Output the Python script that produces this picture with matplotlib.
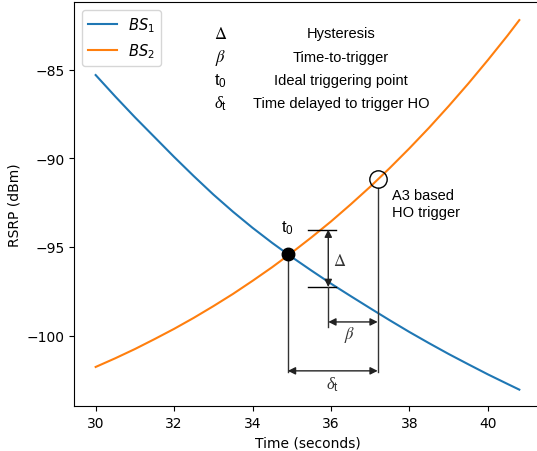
import matplotlib
matplotlib.use("Agg")
import matplotlib.pyplot as plt

# ---- data ----
time_s = [30, 30.5, 31, 31.5, 32, 32.5, 33, 33.5, 34, 34.5, 35, 35.5,
          36, 36.5, 37, 37.5, 38, 38.5, 39, 39.5, 40, 40.5, 40.8]
bs1_rsrp = [-85.30, -86.51, -87.68, -88.80, -89.92, -91.00, -92.04, -93.01,
            -93.92, -94.77, -95.57, -96.33, -97.07, -97.77, -98.46, -99.14,
            -99.80, -100.43, -101.04, -101.62, -102.19, -102.73, -103.05]
bs2_rsrp = [-101.77, -101.28, -100.76, -100.20, -99.62, -99.00, -98.34, -97.65,
            -96.91, -96.14, -95.32, -94.46, -93.56, -92.60, -91.60, -90.54,
            -89.43, -88.27, -87.05, -85.78, -84.45, -83.07, -82.20]

t0_point = (34.9, -95.42)           # ideal triggering point
ho_point = (37.19, -91.18)          # A3 based HO trigger
hyst_top, hyst_bot = -94.02, -97.26  # hysteresis bounds
ttt_y = -99.23                        # time-to-trigger arrow level
delay_y = -101.99                     # delay arrow level
delta_x = 35.93

legend_symbols = [r'$\Delta$', r'$\beta$', r'$\mathrm{t}_\mathrm{0}$', r'$\delta_\mathrm{t}$']
legend_sym_font = ['stix', 'stix', 'custom', 'custom']
legend_texts = ['Hysteresis', 'Time-to-trigger', 'Ideal triggering point',
                'Time delayed to trigger HO']
legend_rows_y = [-82.93, -84.28, -85.58, -86.88]

plt.rcParams['mathtext.rm'] = 'Liberation Sans'
plt.rcParams['mathtext.it'] = 'Liberation Serif:italic'
plt.rcParams['mathtext.bf'] = 'Liberation Sans:bold'
plt.rcParams['mathtext.sf'] = 'Liberation Sans'

fig = plt.figure(figsize=(5.37, 4.52), dpi=100)
ax = fig.add_axes([0.1387, 0.0985, 0.8678, 0.894])

ax.plot(time_s, bs1_rsrp, color='#1f77b4', lw=1.5, label=r'$BS_1$')
ax.plot(time_s, bs2_rsrp, color='#ff7f0e', lw=1.5, label=r'$BS_2$')

gray = '#333333'
# vertical drop lines
ax.plot([t0_point[0], t0_point[0]], [t0_point[1], -102.03], color=gray, lw=1, zorder=3)
ax.plot([ho_point[0], ho_point[0]], [ho_point[1] - 0.48, -102.03], color=gray, lw=1, zorder=3)

# markers
ax.plot([t0_point[0]], [t0_point[1]], 'o', color='black', ms=9, zorder=5)
ax.plot([ho_point[0]], [ho_point[1]], 'o', mfc='none', mec='black', mew=1, ms=12.5, zorder=5)

arrow_kw = dict(arrowstyle='<|-|>', color='#222222', lw=1, mutation_scale=11,
                shrinkA=0, shrinkB=0)

# hysteresis
ax.plot([35.42, 36.12], [hyst_top, hyst_top], color='black', lw=1)
ax.plot([35.42, 36.12], [hyst_bot, hyst_bot], color='black', lw=1)
ax.annotate('', xy=(delta_x, hyst_top), xytext=(delta_x, hyst_bot), arrowprops=arrow_kw)
ax.plot([delta_x, delta_x], [hyst_bot, -99.51], color=gray, lw=1)
ax.text(36.21, -95.72, r'$\Delta$', math_fontfamily='stix', fontsize=12,
        ha='center', va='center', color='#333333')

# time to trigger
ax.annotate('', xy=(delta_x, ttt_y), xytext=(ho_point[0], ttt_y), arrowprops=arrow_kw)
ax.text(36.48, -99.89, r'$\beta$', math_fontfamily='stix', fontsize=12,
        ha='center', va='center', color='#333333')

# delay
ax.annotate('', xy=(t0_point[0], delay_y), xytext=(ho_point[0], delay_y), arrowprops=arrow_kw)
ax.text(36.03, -102.7, r'$\delta_\mathrm{t}$', math_fontfamily='custom', fontsize=12,
        ha='center', va='center', color='#333333')

# labels
ax.text(t0_point[0], -93.87, r'$\mathrm{t}_\mathrm{0}$', math_fontfamily='custom', fontsize=12,
        ha='center', va='center')
ax.text(37.55, -92.54, 'A3 based\nHO trigger', family='Liberation Sans', fontsize=10.5,
        ha='left', va='center', linespacing=1.25)

for sym, mf, txt, yy in zip(legend_symbols, legend_sym_font, legend_texts, legend_rows_y):
    ax.text(33.19, yy, sym, math_fontfamily=mf, fontsize=12, ha='center', va='center')
    ax.text(36.25, yy, txt, family='Liberation Sans', fontsize=10.5, ha='center', va='center')

ax.set_xlim(29.46, 41.34)
ax.set_ylim(-104.0, -81.2)
ax.set_xlabel('Time (seconds)')
ax.set_ylabel('RSRP (dBm)')
ax.legend(loc='upper left', fontsize=10.5)

fig.savefig('out.png', dpi=100)
